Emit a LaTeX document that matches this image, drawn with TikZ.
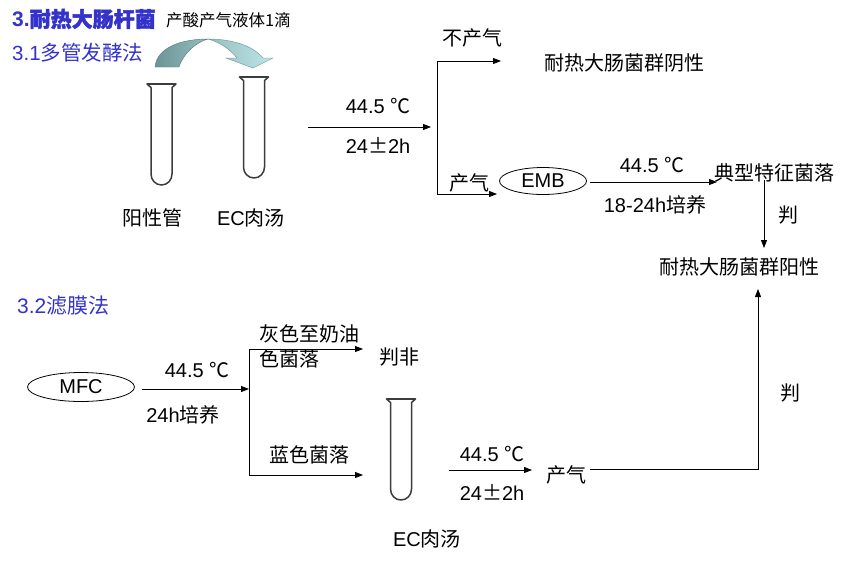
\documentclass[tikz,border=0pt]{standalone}
\usepackage{fontspec}
\setmainfont{Liberation Sans}
\newfontfamily\cjk{Noto Sans CJK SC}
\newfontfamily\cjkb[FakeBold=2]{Noto Sans CJK SC}
\usetikzlibrary{arrows.meta,shapes.geometric}
\definecolor{ttl}{RGB}{51,51,204}
\definecolor{darkteal}{RGB}{108,148,150}
\definecolor{midteal}{RGB}{150,190,192}
\definecolor{lightcy}{RGB}{190,228,232}
\definecolor{tubegray}{RGB}{60,60,60}
\newcommand{\mydegc}{{\cjk ℃}}
\newcommand{\mypm}{{\cjk ±}}
\tikzset{
  arr/.style={-{Triangle[length=8pt,width=6pt]}, line width=0.8pt},
  plainline/.style={line width=0.8pt},
  ell/.style={ellipse, draw, line width=0.8pt, inner sep=0pt},
  testtube/.pic={
    \draw[tubegray, line width=1.8pt, line cap=round] (-14.5,0) -- (14.5,0);
    \draw[tubegray, line width=1.5pt, line join=round]
      (-14,0.5) -- (-10.5,3.5) -- (-10.5,90)
      .. controls (-10.5,96) and (-6,101) .. (0,101)
      .. controls (6,101) and (10.5,96) .. (10.5,90)
      -- (10.5,3.5) -- (14,0.5);
  }
}
\begin{document}
\begin{tikzpicture}[x=1pt,y=-1pt,
  every node/.style={inner sep=0pt, font=\fontsize{20}{24}\selectfont}]
\fill[white] (0,0) rectangle (843,566);
\useasboundingbox (0,0) rectangle (843,566);

% headings
\node[anchor=west,text=ttl,font=\fontsize{21}{24}\selectfont\bfseries] (title) at (12,19) {3.{\cjkb 耐热大肠杆菌}};
\node[anchor=west,font=\fontsize{16.5}{20}\selectfont] (drop) at (166,20) {\cjk 产酸产气液体1滴};
\node[anchor=west,text=ttl,font=\fontsize{20.5}{24}\selectfont] (s31) at (12,53) {3.1{\cjk 多管发酵法}};

% curved transfer arrow
\shade[left color=darkteal, right color=midteal, draw=darkteal!80!black, line width=0.4pt]
  (155,67) .. controls (157,47) and (182,39) .. (208,39)
  .. controls (197,42) and (184,52) .. (179,67) -- cycle;
\shade[left color=midteal, right color=lightcy, draw=darkteal, line width=0.4pt]
  (208,39) .. controls (235,39) and (254,47) .. (263,58)
  -- (273,58) -- (253,68) -- (226,58) -- (237,58)
  .. controls (230,49) and (219,42) .. (208,39) -- cycle;

% tubes
\pic (tubeA) at (161.5,84) {testtube};
\pic (tubeB) at (254,77) {testtube};
\node (posTube) at (152,218) {\cjk 阳性管};
\node (ecA) at (251,218) {EC{\cjk 肉汤}};

% first incubation
\coordinate (a1s) at (308,127);
\coordinate (a1e) at (431,127);
\draw[arr] (a1s) -- (a1e);
\node (t1) at (378,106) {44.5 \mydegc};
\node (h1) at (378,145) {24\mypm 2h};
\coordinate (b1t) at (437,61);
\coordinate (b1b) at (437,194);
\draw[plainline] (b1t) -- (b1b);
\coordinate (neg) at (501,61);
\draw[arr] (b1t) -- (neg);
\node (nogas) at (472,38) {\cjk 不产气};
\node (negres) at (624,63) {\cjk 耐热大肠菌群阴性};
\coordinate (embin) at (497,194);
\draw[arr] (b1b) -- (embin);
\node (gas1) at (469,183) {\cjk 产气};
\node[ell, minimum width=87pt, minimum height=27pt] (emb) at (543,181) {EMB};

% EMB to typical colonies
\coordinate (e2s) at (590,182);
\coordinate (e2e) at (717,182);
\draw[arr] (e2s) -- (e2e);
\node (t2) at (652,165) {44.5 \mydegc};
\node (h2) at (655,205) {18-24h{\cjk 培养}};
\node (typ) at (774,173) {\cjk 典型特征菌落};
\coordinate (v1s) at (764,180);
\coordinate (v1e) at (764,248);
\draw[arr] (v1s) -- (v1e);
\node (pan1) at (788,215) {\cjk 判};
\node (posres) at (739,267) {\cjk 耐热大肠菌群阳性};

% 3.2 membrane filter
\node[anchor=west,text=ttl,font=\fontsize{21}{24}\selectfont] (s32) at (17,306) {3.2{\cjk 滤膜法}};
\node[ell, minimum width=107pt, minimum height=29pt] (mfc) at (81,387) {MFC};
\coordinate (m1s) at (142,389);
\coordinate (m1e) at (249,389);
\draw[arr] (m1s) -- (m1e);
\node (t3) at (197,370) {44.5 \mydegc};
\node (h3) at (183,415) {24h{\cjk 培养}};
\coordinate (b2t) at (249,349);
\coordinate (b2b) at (249,475);
\draw[plainline] (b2t) -- (b2b);
\coordinate (grayend) at (363,349);
\coordinate (blueend) at (363,475);
\draw[arr] (b2t) -- (grayend);
\draw[arr] (b2b) -- (blueend);
\node[anchor=west] (g1) at (259,334) {\cjk 灰色至奶油};
\node[anchor=west] (g2) at (259,359) {\cjk 色菌落};
\node (pf) at (399,357) {\cjk 判非};
\node (bl) at (309,455) {\cjk 蓝色菌落};
\pic (tubeC) at (401,399) {testtube};
\node (ecB) at (427,539) {EC{\cjk 肉汤}};
\coordinate (l1s) at (449,470);
\coordinate (l1e) at (532,470);
\draw[arr] (l1s) -- (l1e);
\node (t4) at (492,454) {44.5 \mydegc};
\node (h4) at (492,492) {24\mypm 2h};
\node (gas2) at (566,475) {\cjk 产气};
\coordinate (l2s) at (590,469);
\coordinate (corner) at (758,469);
\coordinate (l2e) at (758,289);
\draw[arr] (l2s) -- (corner) -- (l2e);
\node (pan2) at (790,393) {\cjk 判};
\end{tikzpicture}
\end{document}
